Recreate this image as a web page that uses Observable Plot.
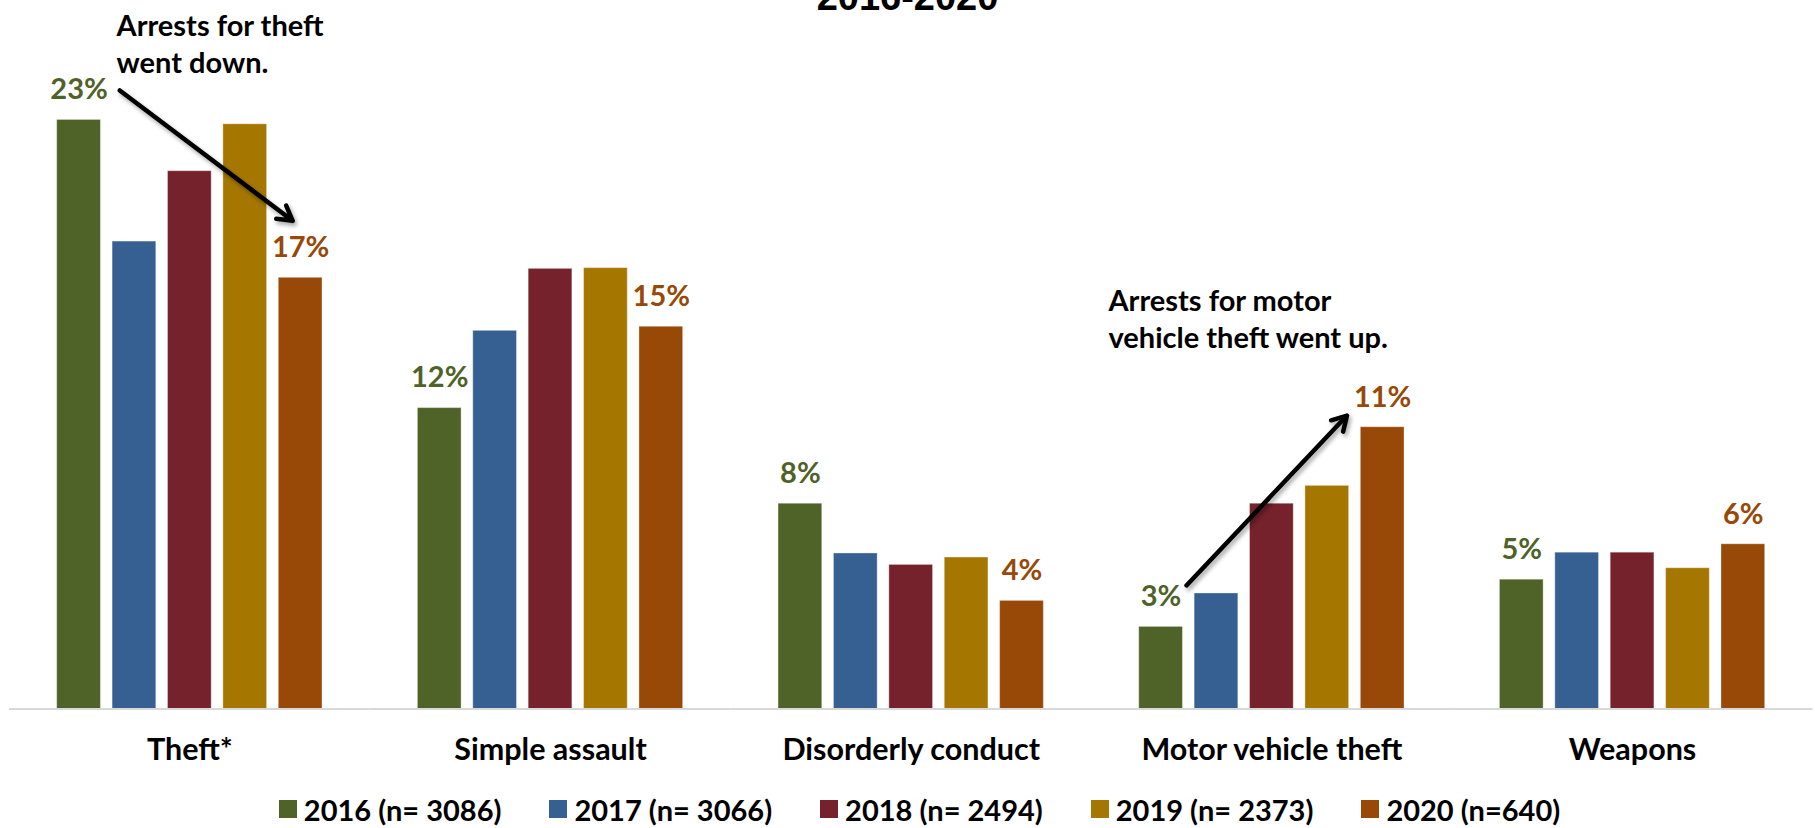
<!DOCTYPE html>
<html>
<head>
<meta charset="utf-8">
<script src="https://cdn.jsdelivr.net/npm/d3@7"></script>
<script src="https://cdn.jsdelivr.net/npm/@observablehq/plot@0.6"></script>
<style>
  html, body { margin: 0; padding: 0; background: #fff; }
  body { position: relative; width: 1815px; height: 828px; overflow: hidden; }
  #title { position: absolute; left: 0; top: -22px; width: 1815px; text-align: center;
           font: bold 38px "Liberation Sans", Arial, sans-serif; line-height: 38px; color: #000; }
  #chart { position: absolute; left: 0; top: 0; }
  #legend { position: absolute; left: 12px; top: 791px; width: 1815px; }
  #legend > div { justify-content: center; font: bold 29px Lato, sans-serif !important; color: #000; margin: 0 !important; min-height: 36px; }
  #legend > div > span { margin-right: 48px !important; }
  #legend > div > span:last-of-type { margin-right: 0 !important; }
  #legend > div > span > svg { margin-right: 7px !important; }
  #chart g[aria-label="arrow"] { filter: drop-shadow(2px 3px 2px rgba(0,0,0,0.35)); }
</style>
</head>
<body>
<div id="title">2016-2020</div>
<div id="chart"></div>
<div id="legend"></div>
<script>
// ---- data ----
const categories = ["Theft*", "Simple assault", "Disorderly conduct", "Motor vehicle theft", "Weapons"];
const years = ["2016", "2017", "2018", "2019", "2020"];
const legendLabels = ["2016 (n= 3086)", "2017 (n= 3066)", "2018 (n= 2494)", "2019 (n= 2373)", "2020 (n=640)"];
const colors = ["#4F6228", "#366092", "#76222D", "#A67700", "#984807"];
// percent of arrests, by category, one array per year
const values2016 = [23.1, 11.8, 8.05, 3.22, 5.07];
const values2017 = [18.33, 14.83, 6.1, 4.53, 6.13];
const values2018 = [21.09, 17.26, 5.65, 8.05, 6.13];
const values2019 = [22.93, 17.29, 5.94, 8.75, 5.52];
const values2020 = [16.91, 14.99, 4.24, 11.05, 6.46];
const labeledYears = ["2016", "2020"];
// annotations (in data coordinates)
const note1 = [{category: "Theft*", year: "2016", value: 26.13, text: "Arrests for theft\nwent down."}];
const note2 = [{category: "Motor vehicle theft", year: "2016", value: 15.34, text: "Arrests for motor\nvehicle theft went up."}];
const arrow1 = [{category: "Theft*", from: "2016", to: "2020", v1: 25.46, v2: 18.91}];
const arrow2 = [{category: "Motor vehicle theft", from: "2016", to: "2020", v1: 3.79, v2: 12.99}];

const series = [values2016, values2017, values2018, values2019, values2020];
const data = [];
categories.forEach((c, ci) => years.forEach((y, yi) => data.push({category: c, year: y, value: series[yi][ci]})));

const plot = Plot.plot({
  width: 1815,
  height: 785,
  marginLeft: 9,
  marginRight: 2.6,
  marginTop: 71,
  marginBottom: 76.5,
  style: {fontFamily: "Lato, sans-serif", fontSize: "30.5px", fontWeight: "bold", color: "#000", background: "transparent"},
  fx: {domain: categories, paddingInner: 0, paddingOuter: 0, round: false, axis: "bottom", tickSize: 0, tickPadding: 29.8, label: null},
  x: {domain: years, paddingInner: 0.211, paddingOuter: 0.861, round: false, axis: null},
  y: {domain: [0, 25], axis: null},
  color: {domain: years, range: colors},
  marks: [
    Plot.barY(data, {fx: "category", x: "year", y: "value", fill: "year", stroke: "#ffffff", strokeOpacity: 0.35, strokeWidth: 1}),
    Plot.ruleY([0], {stroke: "#d9d9d9", strokeWidth: 2}),
    Plot.text(data.filter(d => labeledYears.includes(d.year)), {
      fx: "category", x: "year", y: "value", fill: "year",
      text: d => Math.round(d.value) + "%", dy: -30, fontSize: 29, fontWeight: "bold"
    }),
    Plot.text(note1, {fx: "category", x: "year", y: "value", text: "text", dx: 37.5, textAnchor: "start",
      lineAnchor: "middle", lineHeight: 1.276, fill: "#000", fontSize: 29, fontWeight: "bold"}),
    Plot.text(note2, {fx: "category", x: "year", y: "value", text: "text", dx: -52.6, textAnchor: "start",
      lineAnchor: "middle", lineHeight: 1.276, fill: "#000", fontSize: 29, fontWeight: "bold"}),
    Plot.arrow(arrow1, {fx: "category", x1: "from", x2: "to", y1: "v1", y2: "v2", stroke: "#000", strokeWidth: 4.5,
      insetStart: 51, insetEnd: 10, headLength: 5.5}),
    Plot.arrow(arrow2, {fx: "category", x1: "from", x2: "to", y1: "v1", y2: "v2", stroke: "#000", strokeWidth: 4.5,
      insetStart: 37, insetEnd: 52, headLength: 5.5})
  ]
});
document.getElementById("chart").appendChild(plot);

const legend = plot.legend("color", {
  swatchSize: 18,
  tickFormat: d => legendLabels[years.indexOf(d)]
});
document.getElementById("legend").appendChild(legend);
</script>
</body>
</html>
